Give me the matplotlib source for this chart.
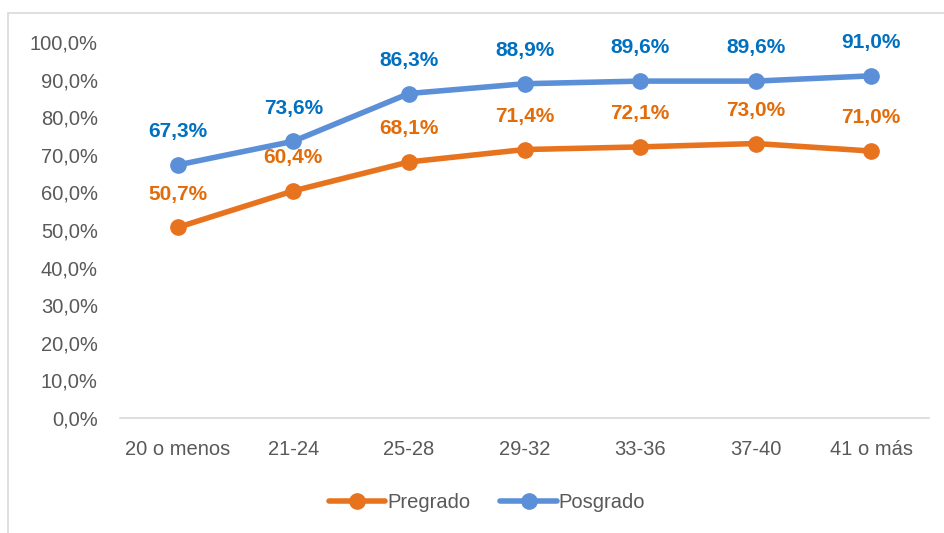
import matplotlib.pyplot as plt
from matplotlib.patches import Rectangle

plt.rcParams['font.family'] = ['Liberation Sans', 'DejaVu Sans']

categories = ['20 o menos', '21-24', '25-28', '29-32', '33-36', '37-40', '41 o más']
pregrado = [50.7, 60.4, 68.1, 71.4, 72.1, 73.0, 71.0]
posgrado = [67.3, 73.6, 86.3, 88.9, 89.6, 89.6, 91.0]

c_pre, c_pre_lab = '#E8731E', '#E36C09'
c_pos, c_pos_lab = '#5B8FD8', '#0070C0'

fig = plt.figure(figsize=(9.44, 5.33), dpi=100)
fig.patches.append(Rectangle((8 / 944, -0.1), 1.0, 1 - 13 / 533 + 0.1,
                             transform=fig.transFigure, fill=False,
                             edgecolor='#D9D9D9', linewidth=1.2))
ax = fig.add_axes([120 / 944, 1 - 418 / 533, 809 / 944, 376 / 533])

x = list(range(len(categories)))
ax.plot(x, pregrado, color=c_pre, lw=4, marker='o', ms=11, label='Pregrado', solid_capstyle='round')
ax.plot(x, posgrado, color=c_pos, lw=4, marker='o', ms=11, label='Posgrado', solid_capstyle='round')

for xi, v in zip(x, pregrado):
    ax.annotate(f'{v:.1f}%'.replace('.', ','), (xi, v), xytext=(0, 17), textcoords='offset points',
                ha='center', va='bottom', color=c_pre_lab, fontsize=15, fontweight='bold')
for xi, v in zip(x, posgrado):
    ax.annotate(f'{v:.1f}%'.replace('.', ','), (xi, v), xytext=(0, 17), textcoords='offset points',
                ha='center', va='bottom', color=c_pos_lab, fontsize=15, fontweight='bold')

ax.set_xlim(-0.5, len(categories) - 0.5)
ax.set_ylim(0, 100)
ax.set_yticks(range(0, 101, 10))
ax.set_yticklabels([f'{t},0%' for t in range(0, 101, 10)])
ax.set_xticks(x)
ax.set_xticklabels(categories)
ax.tick_params(length=0, labelsize=14.5, colors='#595959')
ax.tick_params(axis='y', pad=16)
ax.tick_params(axis='x', pad=16)
for s in ['top', 'right', 'left']:
    ax.spines[s].set_visible(False)
ax.spines['bottom'].set_color('#D9D9D9')
ax.spines['bottom'].set_linewidth(1.2)
ax.set_facecolor('none')

fig.legend(loc='center', bbox_to_anchor=(487 / 944, 1 - 503 / 533), ncol=2, frameon=False,
           fontsize=14.5, labelcolor='#595959', handlelength=2.8, handletextpad=0.1,
           columnspacing=1.5)

fig.savefig('out.png', dpi=100)
